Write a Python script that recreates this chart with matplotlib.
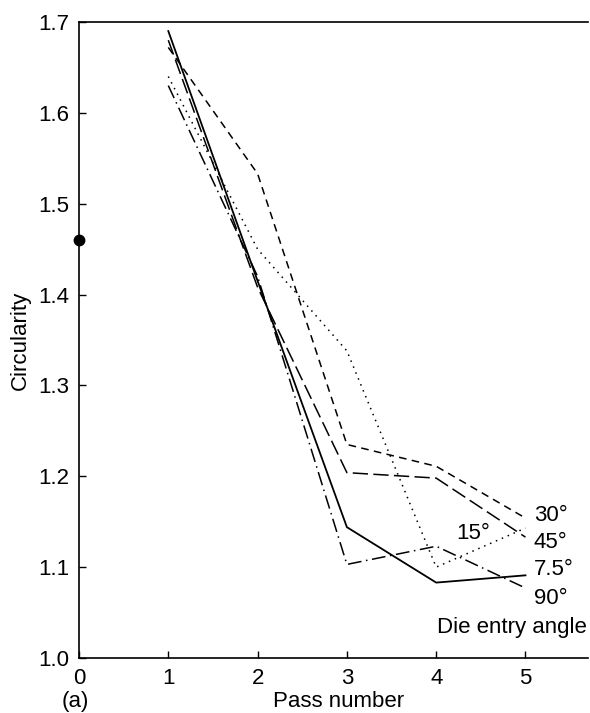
import matplotlib
matplotlib.use("Agg")
import matplotlib.pyplot as plt

plt.rcParams['font.family'] = ['Liberation Sans', 'DejaVu Sans']

# Circularity after each drawing pass, one series per die entry angle
passes = [1, 2, 3, 4, 5]
circ_7_5 = [1.690, 1.415, 1.144, 1.083, 1.091]
circ_15 = [1.640, 1.450, 1.338, 1.100, 1.143]
circ_30 = [1.672, 1.533, 1.235, 1.211, 1.154]
circ_45 = [1.680, 1.408, 1.204, 1.198, 1.133]
circ_90 = [1.630, 1.420, 1.103, 1.123, 1.077]

# Initial circularity of the stock (pass 0)
initial_pass = 0
initial_circ = 1.46

angle_labels = ["7.5°", "15°", "30°", "45°", "90°"]
x_ticks = [0, 1, 2, 3, 4, 5]
y_ticks = [1.0, 1.1, 1.2, 1.3, 1.4, 1.5, 1.6, 1.7]

fig = plt.figure(figsize=(5.90, 7.13), dpi=100)
ax = fig.add_axes([79 / 590, 1 - 658 / 713, (588 - 79) / 590, (658 - 22) / 713])

lw = 1.1
ax.plot(passes, circ_7_5, color='black', lw=1.3, linestyle='-')
ax.plot(passes, circ_15, color='black', lw=lw, linestyle=(0, (1, 3.2)))
ax.plot(passes, circ_30, color='black', lw=lw, linestyle=(0, (5, 3.5)))
ax.plot(passes, circ_45, color='black', lw=lw, linestyle=(0, (10, 3.5)))
ax.plot(passes, circ_90, color='black', lw=lw, linestyle=(0, (9, 3, 1, 3)))

ax.plot([initial_pass], [initial_circ], 'o', color='black', ms=7.5, clip_on=False, zorder=5)

fs = 16
ax.text(5.095, 1.157, angle_labels[2], fontsize=fs, va='center', ha='left')
ax.text(5.095, 1.127, angle_labels[3], fontsize=fs, va='center', ha='left')
ax.text(5.095, 1.097, angle_labels[0], fontsize=fs, va='center', ha='left')
ax.text(5.095, 1.066, angle_labels[4], fontsize=fs, va='center', ha='left')
ax.text(4.23, 1.137, angle_labels[1], fontsize=fs, va='center', ha='left')
ax.text(4.85, 1.034, "Die entry angle", fontsize=fs, va='center', ha='center')

ax.set_xlim(0, 5.70)
ax.set_ylim(1.0, 1.7)
ax.set_xticks(x_ticks)
ax.set_xticklabels([str(v) for v in x_ticks])
ax.set_yticks(y_ticks)
ax.set_yticklabels([f"{v:.1f}" for v in y_ticks])
ax.tick_params(direction='in', length=5, width=1.0, labelsize=fs, pad=7)

ax.spines['right'].set_visible(False)
for side in ('left', 'top', 'bottom'):
    ax.spines[side].set_linewidth(1.2)

ax.set_xlabel("Pass number", fontsize=fs, va='center')
ax.xaxis.set_label_coords(0.51, -0.068)
ax.set_ylabel("Circularity", fontsize=fs, va='center')
ax.yaxis.set_label_coords(-0.115, 0.5)
fig.text(75 / 590, 1 - 702 / 713, "(a)", fontsize=fs, ha='center', va='center')

fig.savefig("out.png", dpi=100)
